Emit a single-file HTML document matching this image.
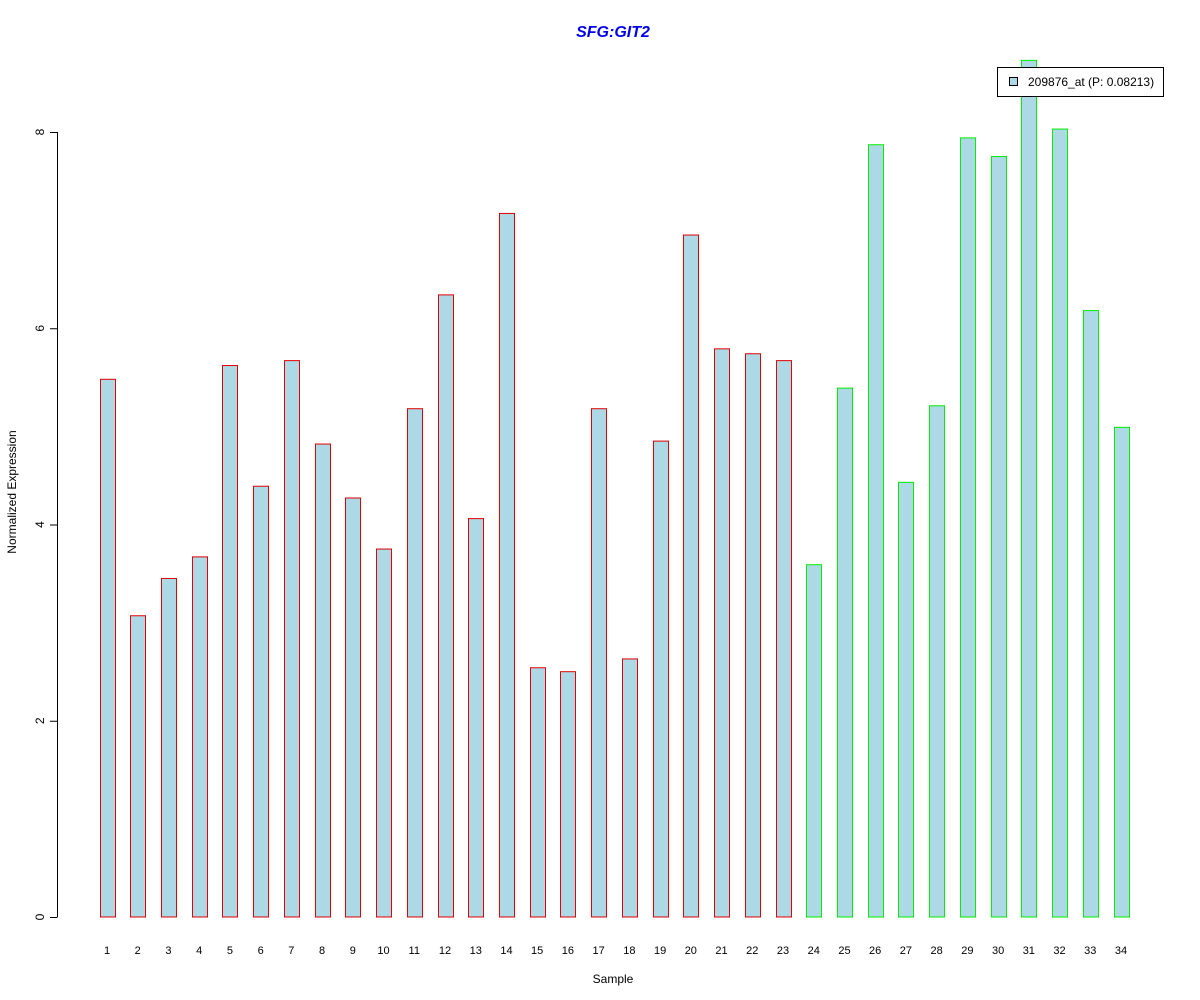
<!DOCTYPE html>
<html><head><meta charset="utf-8"><style>
body{margin:0;background:#fff;}
svg{display:block;font-family:"Liberation Sans",Arial,sans-serif;}
</style></head><body>
<svg id="chart" width="1200" height="1000">
<text x="613" y="37" text-anchor="middle" font-size="16" font-weight="bold" font-style="italic" fill="#0000ee">SFG:GIT2</text>
<text x="613" y="983" text-anchor="middle" font-size="12">Sample</text>
<text transform="translate(16,492) rotate(-90)" text-anchor="middle" font-size="12">Normalized Expression</text>
<g id="yaxis"></g>
<g id="bars"></g>
<g id="xlabels"></g>
<g>
<rect x="997.5" y="67.5" width="166" height="29" fill="#fff" stroke="#000"/>
<rect x="1009.5" y="77.5" width="8" height="8" fill="#add8e6" stroke="#000"/>
<text x="1028" y="86" font-size="12">209876_at (P: 0.08213)</text>
</g>
</svg>
<script>
const samples = ["1","2","3","4","5","6","7","8","9","10","11","12","13","14","15","16","17","18","19","20","21","22","23","24","25","26","27","28","29","30","31","32","33","34"];
const values = [5.48,3.07,3.45,3.67,5.62,4.39,5.67,4.82,4.27,3.75,5.18,6.34,4.06,7.17,2.54,2.50,5.18,2.63,4.85,6.95,5.79,5.74,5.67,3.59,5.39,7.87,4.43,5.21,7.94,7.75,8.73,8.03,6.18,4.99];
const groups = ["a","a","a","a","a","a","a","a","a","a","a","a","a","a","a","a","a","a","a","a","a","a","a","b","b","b","b","b","b","b","b","b","b","b"];
const yTicks = [0,2,4,6,8];
const NS="http://www.w3.org/2000/svg";
const y = v => 917 - v*98.125;
const x = i => 107 + i*(1121-107)/33;
function mk(tag, attrs, parent){const e=document.createElementNS(NS,tag);for(const k in attrs)e.setAttribute(k,attrs[k]);parent.appendChild(e);return e;}
const ya=document.getElementById('yaxis');
mk('line',{x1:57.5,x2:57.5,y1:y(8),y2:y(0),stroke:'#000'},ya);
yTicks.forEach(t=>{
  mk('line',{x1:50,x2:57.5,y1:y(t)+0.5,y2:y(t)+0.5,stroke:'#000'},ya);
  const tx=mk('text',{transform:`translate(44,${y(t)}) rotate(-90)`,'text-anchor':'middle','font-size':12},ya);
  
  
  tx.textContent=t;
});
const bg=document.getElementById('bars'), xl=document.getElementById('xlabels');
values.forEach((v,i)=>{
  const r=mk('rect',{x:Math.round(x(i)-7.5)+0.5,y:y(v),width:15,height:y(0)-y(v),fill:'#add8e6',stroke:groups[i]==='a'?'#e00000':'#00ee00'},bg);
  
  
  const t=mk('text',{x:x(i),y:954,'text-anchor':'middle','font-size':11},xl);
  
  
  t.textContent=samples[i];
});
</script>
</body></html>
